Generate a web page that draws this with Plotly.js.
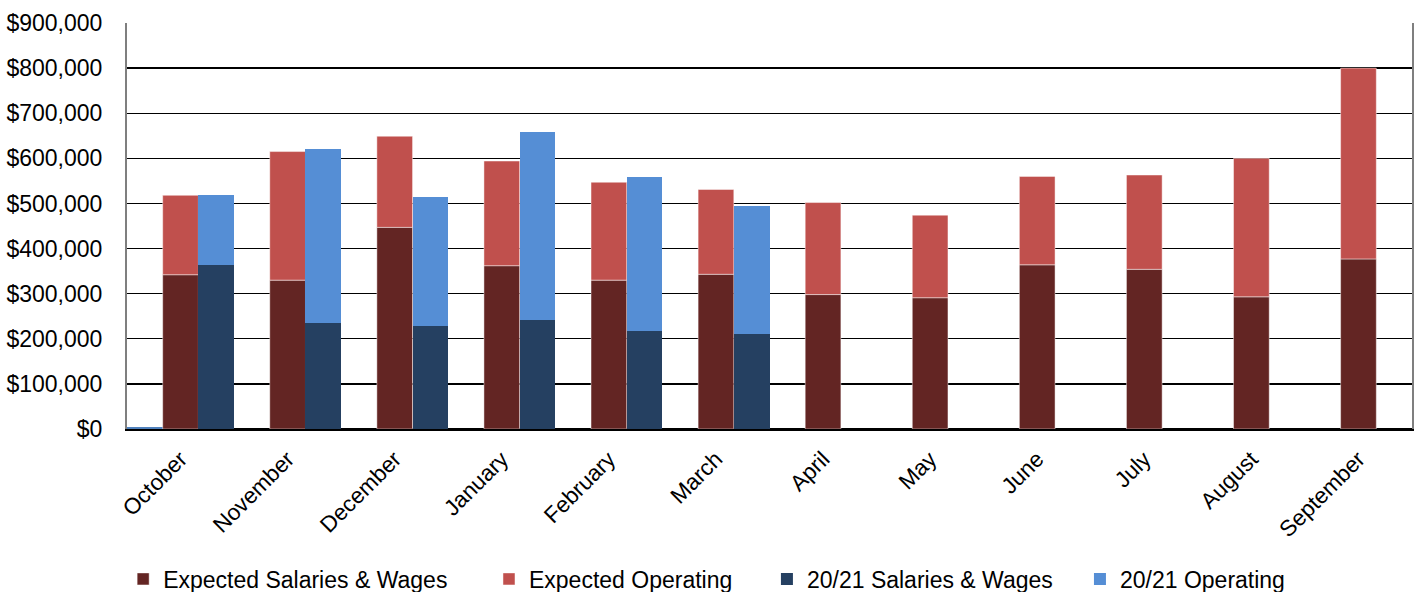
<!DOCTYPE html>
<html>
<head>
<meta charset="utf-8">
<script src="https://cdn.plot.ly/plotly-3.0.1.min.js"></script>
<style>
  html, body { margin: 0; padding: 0; background: #ffffff; }
  #chart { width: 1418px; height: 592px; }
</style>
</head>
<body>
<div id="chart"></div>
<script>
const months = ["October", "November", "December", "January", "February", "March",
                "April", "May", "June", "July", "August", "September"];

const expectedSalaries  = [342000, 330000, 447000, 362000, 330000, 343000, 298000, 291000, 364000, 354000, 293000, 377000];
const expectedOperating = [176000, 285000, 202000, 232000, 217000, 188000, 204000, 183000, 196000, 209000, 307000, 423000];
const actualSalaries    = [364000, 235000, 228000, 242000, 217000, 211000, null, null, null, null, null, null];
const actualOperating   = [154000, 386000, 286000, 416000, 342000, 283000, null, null, null, null, null, null];
const spacerSeries      = [4000, 0, 0, 0, 0, 0, 0, 0, 0, 0, 0, 0];

const seriesNames = ["Expected Salaries & Wages", "Expected Operating", "20/21 Salaries & Wages", "20/21 Operating"];
const yTickVals = [0, 100000, 200000, 300000, 400000, 500000, 600000, 700000, 800000, 900000];
const yTickText = ["$0", "$100,000", "$200,000", "$300,000", "$400,000", "$500,000", "$600,000", "$700,000", "$800,000", "$900,000"];

const FONT = "Liberation Sans, Arial, sans-serif";
const edge = { color: "rgba(255,255,255,0.45)", width: 1 };

const traces = [
  { type: "bar", x: months, y: spacerSeries, offsetgroup: "a", showlegend: false,
    marker: { color: "#4f81bd", line: { width: 0 } }, hoverinfo: "skip" },
  { type: "bar", name: seriesNames[0], x: months, y: expectedSalaries, offsetgroup: "b",
    marker: { color: "#632523", line: edge }, legend: "legend" },
  { type: "bar", name: seriesNames[1], x: months, y: expectedOperating, base: expectedSalaries, offsetgroup: "b",
    marker: { color: "#c0504d", line: edge }, legend: "legend2" },
  { type: "bar", name: seriesNames[2], x: months, y: actualSalaries, offsetgroup: "c",
    marker: { color: "#254061", line: { width: 0 } }, legend: "legend3" },
  { type: "bar", name: seriesNames[3], x: months, y: actualOperating, base: actualSalaries, offsetgroup: "c",
    marker: { color: "#558ed5", line: { width: 0 } }, legend: "legend4" }
];

const legendBase = {
  orientation: "h", yref: "container", yanchor: "middle", xanchor: "left", y: 0.022,
  font: { family: FONT, size: 23, color: "#000000" },
  bgcolor: "rgba(0,0,0,0)", borderwidth: 0, itemclick: false, itemdoubleclick: false
};

const layout = {
  width: 1418, height: 592,
  margin: { l: 127, r: 6, t: 23, b: 163, pad: 0 },
  paper_bgcolor: "#ffffff", plot_bgcolor: "#ffffff",
  barmode: "group", bargap: 0, bargroupgap: 0,
  font: { family: FONT, size: 22, color: "#000000" },
  xaxis: {
    type: "category", tickangle: -45, showgrid: false, zeroline: false, automargin: false,
    showline: true, linecolor: "#000000", linewidth: 2,
    ticks: "", ticklabelstandoff: 6,
    tickfont: { family: FONT, size: 22.5, color: "#000000" }
  },
  yaxis: {
    range: [0, 900000], tickmode: "array", tickvals: yTickVals, ticktext: yTickText, automargin: false,
    showgrid: true, gridcolor: "#000000", gridwidth: 1.3,
    zeroline: true, zerolinecolor: "#000000", zerolinewidth: 2,
    showline: true, linecolor: "#7f7f7f", linewidth: 2, mirror: true,
    ticks: "", ticklabelstandoff: 18,
    tickfont: { family: FONT, size: 23, color: "#000000" }
  },
  legend:  Object.assign({}, legendBase, { x: -0.003 }),
  legend2: Object.assign({}, legendBase, { x: 0.2817 }),
  legend3: Object.assign({}, legendBase, { x: 0.498 }),
  legend4: Object.assign({}, legendBase, { x: 0.7416 }),
  showlegend: true
};

Plotly.newPlot("chart", traces, layout, { displayModeBar: false, staticPlot: true });
</script>
</body>
</html>
